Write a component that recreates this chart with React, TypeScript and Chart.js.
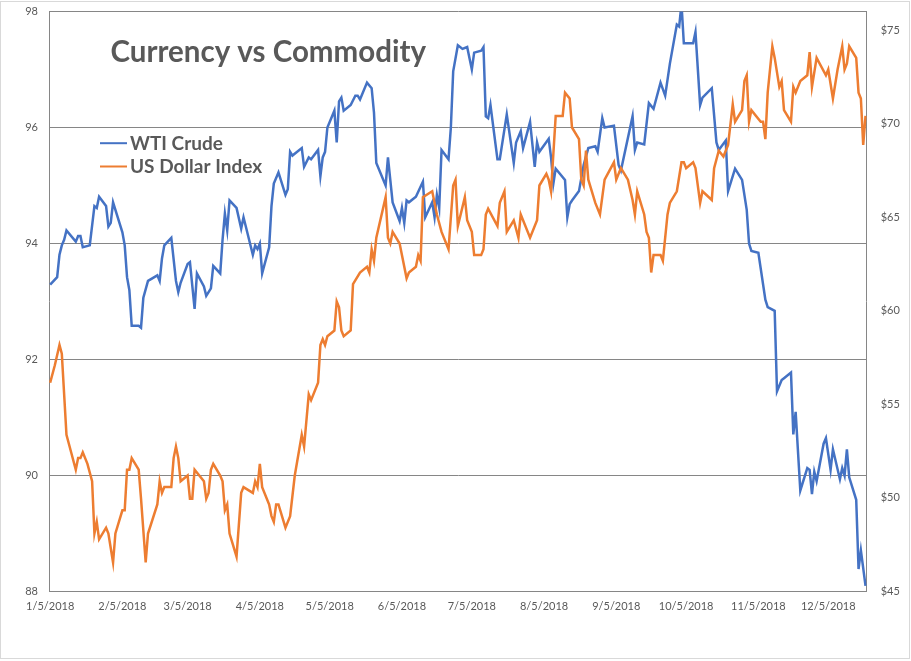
import React, { useEffect, useRef } from "react";
import { Chart, registerables } from "chart.js";

Chart.register(...registerables);

const YEAR = 2018;

const wtiDates = [
  "1/5","1/8","1/9","1/10","1/11","1/12","1/16","1/17","1/18","1/19","1/22","1/24","1/25","1/26","1/29","1/30","1/31",
  "2/1","2/5","2/6","2/7","2/8","2/9","2/12","2/13","2/14","2/16","2/20","2/21","2/22","2/23","2/26","2/28",
  "3/1","3/2","3/5","3/6","3/8","3/9","3/12","3/13","3/15","3/16","3/19","3/20","3/21","3/22","3/23","3/26","3/28","3/29",
  "4/2","4/3","4/4","4/5","4/6","4/9","4/10","4/11","4/13","4/16","4/17","4/18","4/19","4/23","4/24","4/26","4/27","4/30",
  "5/1","5/2","5/3","5/4","5/7","5/8","5/9","5/10","5/11","5/14","5/16","5/17","5/18","5/21","5/23","5/24","5/25","5/29","5/30",
  "6/1","6/4","6/5","6/6","6/7","6/8","6/11","6/14","6/15","6/18","6/19","6/20","6/21","6/22","6/25","6/26","6/27","6/29",
  "7/1","7/3","7/5","7/6","7/9","7/10","7/11","7/12","7/13","7/16","7/17","7/20","7/23","7/24","7/26","7/27","7/30",
  "8/1","8/2","8/3","8/7","8/8","8/9","8/10","8/14","8/15","8/16","8/17","8/20","8/22","8/24","8/27","8/28","8/30","8/31",
  "9/4","9/6","9/7","9/12","9/13","9/14","9/17","9/19","9/21","9/24","9/26","9/28",
  "10/1","10/2","10/3","10/4","10/8","10/9","10/11","10/12","10/16","10/18","10/19","10/22","10/23","10/26","10/29","10/31",
  "11/1","11/2","11/5","11/8","11/9","11/12","11/13","11/15","11/16","11/19","11/20","11/21","11/23","11/26","11/27","11/28","11/29","11/30",
  "12/3","12/4","12/6","12/7","12/10","12/11","12/12","12/13","12/14","12/17","12/18","12/19","12/21"
];

const wtiPrices = [
  61.4,61.8,63.0,63.5,63.8,64.3,63.7,64.0,64.0,63.4,63.5,65.6,65.5,66.1,65.6,64.5,64.7,
  65.8,64.2,63.5,61.8,61.1,59.2,59.2,59.1,60.7,61.6,61.9,61.6,62.8,63.5,63.9,61.6,
  61.0,61.5,62.5,62.6,60.1,62.0,61.3,60.8,61.2,62.4,62.0,63.8,65.2,64.3,65.9,65.5,64.4,65.0,
  63.0,63.5,63.3,63.6,62.0,63.4,65.6,66.8,67.4,66.2,66.5,68.5,68.3,68.7,67.7,68.2,68.1,68.6,
  67.2,68.2,68.5,69.8,70.7,69.0,71.2,71.4,70.7,71.0,71.5,71.5,71.3,72.2,71.9,70.6,67.9,66.7,68.2,
  65.8,64.8,65.5,64.7,65.9,65.8,66.1,66.9,65.0,65.8,65.0,66.2,65.5,68.6,68.1,69.8,72.8,74.2,
  74.0,74.1,72.9,73.8,73.9,74.1,70.4,70.3,71.0,68.1,68.1,70.5,67.9,69.0,69.6,68.7,70.1,
  67.7,69.0,68.5,69.2,68.2,66.8,67.6,67.0,65.0,65.7,65.9,66.4,67.8,68.7,68.8,68.5,70.3,69.8,
  69.9,67.8,67.5,70.4,68.6,69.0,68.9,71.1,70.8,72.2,71.5,73.2,
  75.3,75.2,76.4,74.3,74.3,74.9,71.0,71.4,71.9,69.0,68.6,69.1,66.4,67.6,67.0,65.4,
  63.6,63.2,63.1,60.6,60.2,60.0,55.7,56.3,56.4,56.7,53.4,54.6,50.4,51.6,51.5,50.2,51.4,50.9,
  52.9,53.2,51.5,52.6,51.0,51.6,51.2,52.6,51.1,49.9,46.2,47.2,45.3
];

const dxyDates = [
  "1/5","1/7","1/9","1/10","1/12","1/14","1/16","1/17","1/18","1/19","1/21","1/23","1/24","1/25","1/26","1/29","1/30",
  "2/1","2/2","2/5","2/6","2/7","2/8","2/9","2/12","2/13","2/15","2/16","2/20","2/21","2/22","2/23","2/26","2/27","2/28",
  "3/1","3/2","3/5","3/6","3/7","3/8","3/12","3/13","3/14","3/15","3/16","3/19","3/20","3/21","3/22","3/23","3/26","3/28","3/29",
  "4/2","4/3","4/4","4/5","4/6","4/9","4/10","4/11","4/12","4/13","4/16","4/18","4/20","4/23","4/24","4/26","4/27","4/30",
  "5/1","5/2","5/3","5/4","5/7","5/8","5/9","5/10","5/11","5/14","5/15","5/18","5/21","5/22","5/23","5/24","5/25","5/29","5/30","5/31",
  "6/1","6/4","6/7","6/8","6/11","6/12","6/13","6/14","6/18","6/20","6/22","6/25","6/27","6/28","6/29",
  "7/2","7/3","7/5","7/6","7/9","7/10","7/11","7/12","7/16","7/17","7/19","7/20","7/23","7/25","7/26","7/30",
  "8/2","8/3","8/6","8/7","8/8","8/10","8/13","8/14","8/16","8/17","8/20","8/21","8/22","8/23","8/24","8/27","8/29","8/31",
  "9/4","9/5","9/7","9/10","9/12","9/13","9/14","9/17","9/18","9/19","9/20","9/21","9/24","9/25","9/27","9/28",
  "10/1","10/3","10/4","10/5","10/8","10/9","10/11","10/12","10/16","10/17","10/19","10/21","10/23","10/25","10/26","10/29","10/30","10/31",
  "11/1","11/2","11/6","11/7","11/8","11/9","11/11","11/12","11/14","11/15","11/16","11/19","11/20","11/21","11/23","11/26","11/27","11/28","11/30",
  "12/4","12/5","12/7","12/9","12/11","12/12","12/13","12/14","12/17","12/18","12/19","12/20","12/21"
];

const dxyValues = [
  91.6,91.9,92.25,92.1,90.7,90.4,90.1,90.3,90.3,90.4,90.2,89.9,89.0,89.2,88.9,89.1,89.0,
  88.5,89.0,89.4,89.4,90.1,90.1,90.3,90.1,89.6,88.5,89.0,89.5,89.9,89.7,89.8,89.8,90.3,90.5,
  90.3,89.9,90.0,89.6,89.6,90.1,89.9,89.6,89.7,90.1,90.2,90.0,89.9,89.4,89.5,89.0,88.6,89.7,89.8,
  89.7,89.9,89.8,90.2,89.8,89.5,89.3,89.2,89.5,89.5,89.1,89.3,90.0,90.7,90.5,91.4,91.3,91.6,
  92.25,92.35,92.25,92.4,92.5,93.0,92.9,92.5,92.4,92.5,93.3,93.5,93.6,93.5,93.9,93.7,94.1,94.8,94.1,94.0,
  94.2,94.0,93.4,93.5,93.6,93.8,93.7,94.8,94.9,94.5,94.2,93.9,95.0,95.1,94.3,
  94.8,94.4,94.2,93.8,93.8,93.9,94.5,94.6,94.3,94.7,94.9,94.2,94.4,94.1,94.5,94.1,
  94.4,95.0,95.2,95.1,94.9,96.2,96.2,96.6,96.5,96.0,95.8,95.1,95.0,95.6,95.1,94.7,94.5,95.1,
  95.4,95.1,95.3,95.1,94.75,94.5,94.9,94.5,94.2,94.1,93.5,93.8,93.8,93.7,94.5,94.7,
  94.9,95.4,95.4,95.3,95.4,95.3,94.7,94.9,94.75,95.3,95.6,95.5,95.7,96.4,96.1,96.3,96.8,96.9,
  96.1,96.3,96.1,96.1,95.8,96.6,97.4,97.2,96.7,96.8,96.3,96.1,96.7,96.6,96.8,96.9,97.3,96.7,97.2,
  96.9,97.0,96.5,97.0,97.4,97.0,97.1,97.4,97.2,96.6,96.5,95.7,96.2
];

const xTickDates = ["1/5","2/5","3/5","4/5","5/5","6/5","7/5","8/5","9/5","10/5","11/5","12/5"];
const firstDate = "1/5";
const lastDate = "12/21";

const TITLE = "Currency vs Commodity";
const WTI_LABEL = "WTI Crude";
const DXY_LABEL = "US Dollar Index";

const BLUE = "#4472C4";
const ORANGE = "#ED7D31";
const TEXT = "#595959";
const GRID = "#868686";
const FONT = "Lato, 'Open Sans', sans-serif";

function dayOffset(md: string): number {
  const [m, d] = md.split("/").map(Number);
  const [m0, d0] = firstDate.split("/").map(Number);
  return (Date.UTC(YEAR, m - 1, d) - Date.UTC(YEAR, m0 - 1, d0)) / 86400000;
}

function dateLabel(v: number): string {
  const [m0, d0] = firstDate.split("/").map(Number);
  const t = new Date(Date.UTC(YEAR, m0 - 1, d0) + v * 86400000);
  return `${t.getUTCMonth() + 1}/${t.getUTCDate()}/${t.getUTCFullYear()}`;
}

const overlayPlugin = {
  id: "overlay",
  afterDraw(chart: any) {
    const { ctx, chartArea } = chart;
    const L = chartArea.left;
    const T = chartArea.top;
    ctx.save();
    ctx.fillStyle = TEXT;
    ctx.textBaseline = "alphabetic";
    ctx.textAlign = "left";
    ctx.font = `bold 29.5px ${FONT}`;
    ctx.fillText(TITLE, L + 61.5, T + 50);

    const items = [
      { label: WTI_LABEL, color: BLUE },
      { label: DXY_LABEL, color: ORANGE },
    ];
    ctx.font = `bold 19px ${FONT}`;
    items.forEach((it, i) => {
      const y = T + 131.7 + i * 23.3;
      ctx.strokeStyle = it.color;
      ctx.lineWidth = 2;
      ctx.beginPath();
      ctx.moveTo(L + 51, y);
      ctx.lineTo(L + 78, y);
      ctx.stroke();
      ctx.fillStyle = TEXT;
      ctx.fillText(it.label, L + 81, y + 6.8);
    });
    ctx.restore();
  },
};

const noVPad = (w: number) => (scale: any) => {
  scale.width = w;
  scale.paddingTop = 0;
  scale.paddingBottom = 0;
};

export default function App() {
  const ref = useRef<HTMLCanvasElement | null>(null);

  useEffect(() => {
    if (!ref.current) return;
    const wtiData = wtiDates.map((d, i) => ({ x: dayOffset(d), y: wtiPrices[i] }));
    const dxyData = dxyDates.map((d, i) => ({ x: dayOffset(d), y: dxyValues[i] }));
    const tickValues = xTickDates.map(dayOffset);

    const chart = new Chart(ref.current, {
      type: "line",
      data: {
        datasets: [
          {
            label: WTI_LABEL,
            data: wtiData,
            yAxisID: "y2",
            borderColor: BLUE,
            backgroundColor: BLUE,
            borderWidth: 2.5,
            pointRadius: 0,
            tension: 0,
            order: 1,
          },
          {
            label: DXY_LABEL,
            data: dxyData,
            yAxisID: "y",
            borderColor: ORANGE,
            backgroundColor: ORANGE,
            borderWidth: 2.5,
            pointRadius: 0,
            tension: 0,
            order: 0,
          },
        ],
      },
      options: {
        responsive: false,
        animation: false,
        devicePixelRatio: 1,
        layout: { padding: { top: 11.5, left: 0, right: 0, bottom: 0 } },
        plugins: {
          legend: { display: false },
          title: { display: false },
          tooltip: { enabled: false },
        },
        scales: {
          x: {
            type: "linear",
            position: "bottom",
            min: dayOffset(firstDate) - 0.5,
            max: dayOffset(lastDate) + 0.5,
            grid: { display: false, drawTicks: false },
            border: { display: true, color: GRID, width: 1 },
            afterBuildTicks: (scale: any) => {
              scale.ticks = tickValues.map((v) => ({ value: v }));
            },
            afterFit: (scale: any) => {
              scale.height = 69.5;
              scale.paddingLeft = 0;
              scale.paddingRight = 0;
            },
            ticks: {
              autoSkip: false,
              maxRotation: 0,
              minRotation: 0,
              padding: 8,
              color: TEXT,
              font: { family: FONT, size: 11 },
              callback: (v: any) => dateLabel(Number(v)),
            },
          },
          y: {
            type: "linear",
            position: "left",
            min: 88,
            max: 98,
            grid: { color: GRID, lineWidth: 1, drawTicks: false },
            border: { display: true, color: GRID, width: 1 },
            afterFit: noVPad(49),
            ticks: {
              stepSize: 2,
              padding: 11,
              color: TEXT,
              font: { family: FONT, size: 11 },
            },
          },
          y2: {
            type: "linear",
            position: "right",
            min: 45,
            max: 76,
            grid: { display: false, drawOnChartArea: false, drawTicks: false },
            border: { display: true, color: GRID, width: 1 },
            afterFit: noVPad(44.3),
            ticks: {
              stepSize: 5,
              includeBounds: false,
              padding: 14,
              color: TEXT,
              font: { family: FONT, size: 11 },
              callback: (v: any) => `$${v}`,
            },
          },
        },
      },
      plugins: [overlayPlugin],
    } as any);

    return () => chart.destroy();
  }, []);

  return (
    <div style={{ position: "absolute", left: 0, top: 0, width: 911, height: 661, background: "#fff" }}>
      <div
        style={{
          position: "absolute",
          left: 0,
          top: 1,
          width: 910,
          height: 658,
          boxSizing: "border-box",
          border: "1px solid #d9d9d9",
        }}
      />
      <canvas ref={ref} width={911} height={661} style={{ position: "absolute", left: 0, top: 0 }} />
    </div>
  );
}
